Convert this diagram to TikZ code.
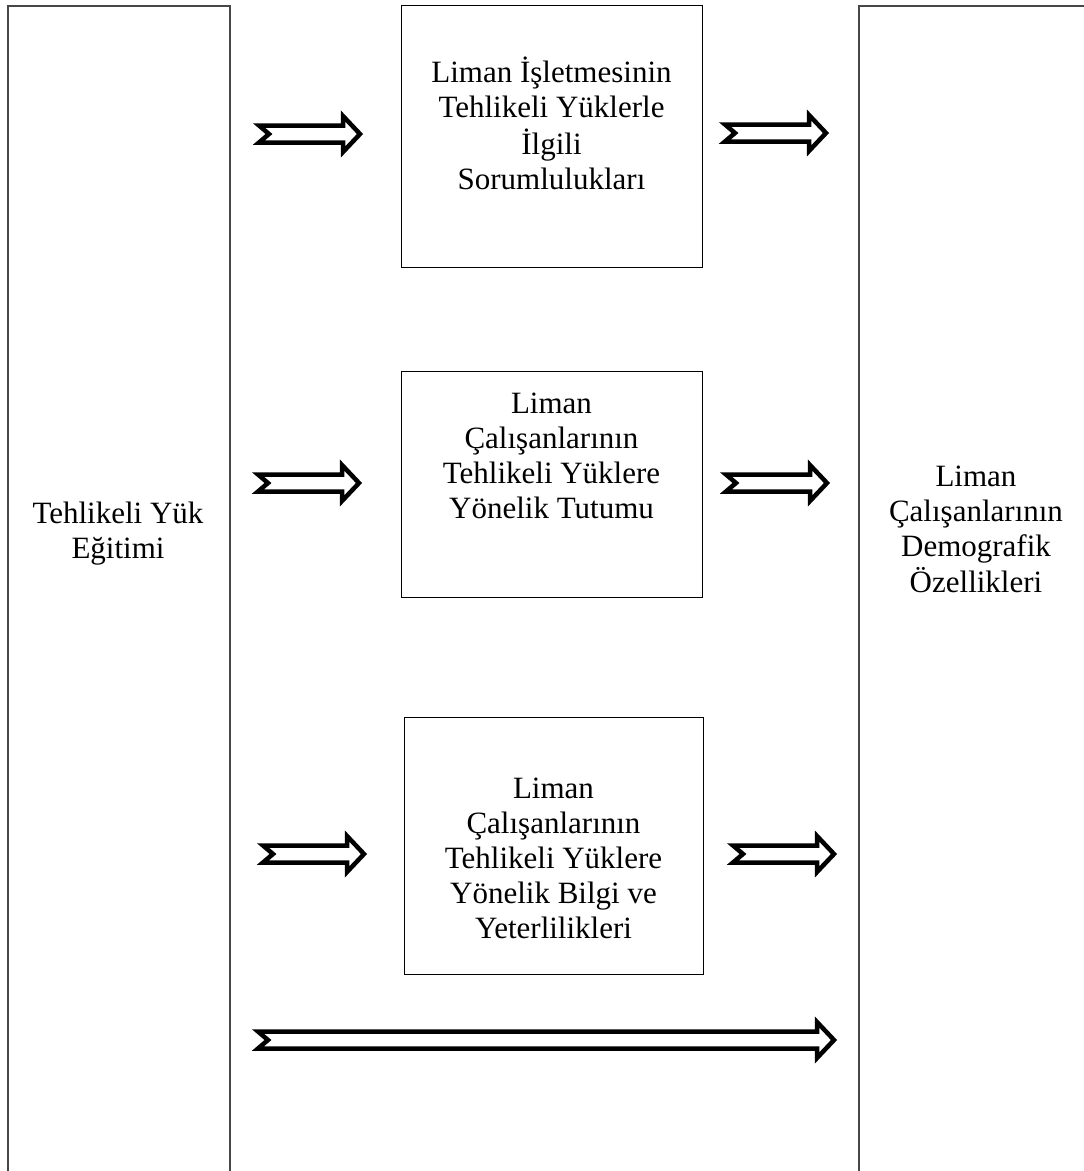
\documentclass[tikz,border=0pt]{standalone}
\usepackage{fontspec}
\setmainfont{Liberation Serif}
\usetikzlibrary{calc}
\tikzset{
  bigbox/.style={draw=black!72, line width=1.6pt, minimum width=222pt, anchor=north west, inner sep=0pt},
  smallbox/.style={draw=black, line width=1.2pt, anchor=north west, inner sep=0pt},
  boxtext/.style={align=center, inner sep=0pt, font=\fontsize{31}{35}\selectfont},
  hollowarrow/.style={draw=black, fill=white, line width=4.5pt, line join=miter, miter limit=12}
}
\newcommand{\notcharrow}[2]{%
  \draw[hollowarrow] let \p1=(#1), \p2=(#2) in
    (\x1+8pt,\y1+8.5pt) -- (\x1+18pt,\y1) -- (\x1+8pt,\y1-8.5pt) --
    (\x2-21pt,\y1-8.5pt) -- (\x2-21pt,\y1-18pt) -- (\x2-4pt,\y1) --
    (\x2-21pt,\y1+18pt) -- (\x2-21pt,\y1+8.5pt) -- cycle;}
\begin{document}
\begin{tikzpicture}[x=1pt,y=-1pt]
\useasboundingbox (0,0) rectangle (1084,1171);
\clip (0,0) rectangle (1084,1171);
\fill[white] (0,0) rectangle (1084,1171);

% tall side boxes
\node[bigbox, minimum height=1250pt] (L) at (7,5) {};
\node[bigbox, minimum width=260pt, minimum height=1250pt] (R) at (858,5) {};
\node[boxtext] (Lt) at (118,533.5) {\strut Tehlikeli Yük\\\strut Eğitimi};
\node[boxtext] (Rt) at (976,532.5) {\strut Liman\\\strut Çalışanlarının\\\strut Demografik\\\strut Özellikleri};

% middle boxes
\node[smallbox, minimum width=301pt, minimum height=262pt] (B1) at (401,5) {};
\node[smallbox, minimum width=301pt, minimum height=226pt] (B2) at (401,371) {};
\node[smallbox, minimum width=299pt, minimum height=257pt] (B3) at (404,717) {};
\node[boxtext] (B1t) at (551.5,128) {\strut Liman İşletmesinin\\\strut Tehlikeli Yüklerle\\\strut İlgili\\\strut Sorumlulukları};
\node[boxtext] (B2t) at (551.5,459) {\strut Liman\\\strut Çalışanlarının\\\strut Tehlikeli Yüklere\\\strut Yönelik Tutumu};
\node[boxtext] (B3t) at (553.5,861) {\strut Liman\\\strut Çalışanlarının\\\strut Tehlikeli Yüklere\\\strut Yönelik Bilgi ve\\\strut Yeterlilikleri};

% arrow end points
\coordinate (a1s) at (251,134); \coordinate (a1e) at (364,134);
\coordinate (b1s) at (717,133); \coordinate (b1e) at (830,133);
\coordinate (a2s) at (250,483); \coordinate (a2e) at (363,483);
\coordinate (b2s) at (718,483); \coordinate (b2e) at (831,483);
\coordinate (a3s) at (255,854); \coordinate (a3e) at (368,854);
\coordinate (b3s) at (725,854); \coordinate (b3e) at (838,854);
\coordinate (a4s) at (250,1040); \coordinate (a4e) at (838,1040);

\notcharrow{a1s}{a1e}
\notcharrow{b1s}{b1e}
\notcharrow{a2s}{a2e}
\notcharrow{b2s}{b2e}
\notcharrow{a3s}{a3e}
\notcharrow{b3s}{b3e}
\notcharrow{a4s}{a4e}
\end{tikzpicture}
\end{document}
